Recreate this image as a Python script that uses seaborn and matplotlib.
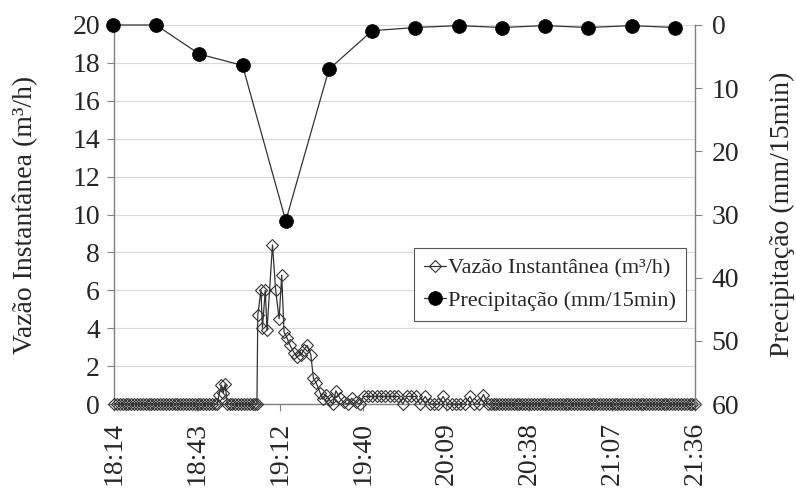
import matplotlib
matplotlib.use("Agg")
import matplotlib.pyplot as plt
import seaborn as sns
import pandas as pd
import numpy as np

sns.set_style("white")
plt.rcParams['font.family'] = ['Liberation Serif', 'DejaVu Serif']

# ---- data -------------------------------------------------------------
# flow: time in minutes after 18:00, instantaneous flow (m3/h)
flow_min = [
    14.4, 15.4, 16.4, 17.4, 18.4, 19.4, 20.4, 21.4, 22.4, 23.4, 24.4, 25.4,
    26.4, 27.4, 28.4, 29.4, 30.4, 31.4, 32.4, 33.4, 34.4, 35.4, 36.4, 37.4,
    38.4, 39.4, 40.4, 41.4, 42.4, 43.4, 44.4, 45.4, 46.4, 47.4, 48.4, 49.4,
    50.2, 50.9, 51.7, 52.3, 53.0, 53.7,
    54.5, 55.5, 56.5, 57.5, 58.5, 59.5, 60.5, 61.5, 62.5, 63.5, 64.0,
    64.3, 65.4, 65.9, 66.9, 67.5, 69.4, 70.5, 71.7, 72.6, 73.4, 74.4, 75.5,
    76.9, 77.9, 79.3, 80.3, 81.4, 82.7, 83.6, 84.6, 85.9, 86.9, 88.0, 89.3,
    90.3, 91.4, 92.8, 94.1, 95.5, 96.9, 98.3, 99.7,
    101.1, 102.6, 104.1, 105.6, 107.1, 108.6, 110.1, 111.6, 113.1, 114.6,
    116.1, 117.6, 119.1, 120.6, 122.4, 124.0, 125.5, 127.0, 128.6, 130.1,
    131.6, 133.1, 134.6, 136.1, 137.9, 139.4, 140.9, 142.6, 144.1,
    145.1, 146.1, 147.1, 148.1, 149.1, 150.1, 151.1, 152.1, 153.1, 154.1,
    155.1, 156.1, 157.1, 158.1, 159.1, 160.1, 161.1, 162.1, 163.1, 164.1,
    165.1, 166.1, 167.1, 168.1, 169.1, 170.1, 171.1, 172.1, 173.1, 174.1,
    175.1, 176.1, 177.1, 178.1, 179.1, 180.1, 181.1, 182.1, 183.1, 184.1,
    185.1, 186.1, 187.1, 188.1, 189.1, 190.1, 191.1, 192.1, 193.1, 194.1,
    195.1, 196.1, 197.1, 198.1, 199.1, 200.1, 201.1, 202.1, 203.1, 204.1,
    205.1, 206.1, 207.1, 208.1, 209.1, 210.1, 211.1, 212.1, 213.1, 214.1,
    215.1, 216.0,
]
flow_val = [
    0, 0, 0, 0, 0, 0, 0, 0, 0, 0, 0, 0,
    0, 0, 0, 0, 0, 0, 0, 0, 0, 0, 0, 0,
    0, 0, 0, 0, 0, 0, 0, 0, 0, 0, 0, 0,
    0, 0.5, 1.0, 0.6, 1.05, 0,
    0, 0, 0, 0, 0, 0, 0, 0, 0, 0, 0,
    4.7, 6.0, 4.0, 6.0, 3.9, 8.4, 6.0, 4.5, 6.8, 3.8, 3.5, 3.1,
    2.7, 2.5, 2.6, 2.85, 3.1, 2.6, 1.35, 1.1, 0.6, 0.25, 0.45, 0.2,
    0.0, 0.7, 0.3, 0.1, 0.0, 0.3, 0.1, 0.0,
    0.4, 0.4, 0.4, 0.4, 0.4, 0.4, 0.4, 0.4, 0.4, 0.0,
    0.4, 0.4, 0.4, 0.0, 0.4, 0.0, 0.0, 0.0, 0.4, 0.0,
    0.0, 0.0, 0.0, 0.0, 0.4, 0.0, 0.0, 0.5, 0.0,
    0, 0, 0, 0, 0, 0, 0, 0, 0, 0,
    0, 0, 0, 0, 0, 0, 0, 0, 0, 0,
    0, 0, 0, 0, 0, 0, 0, 0, 0, 0,
    0, 0, 0, 0, 0, 0, 0, 0, 0, 0,
    0, 0, 0, 0, 0, 0, 0, 0, 0, 0,
    0, 0, 0, 0, 0, 0, 0, 0, 0, 0,
    0, 0, 0, 0, 0, 0, 0, 0, 0, 0,
    0, 0,
]

# precipitation every 15 min (mm/15min)
precip_time = ["18:14", "18:29", "18:44", "18:59", "19:14", "19:29", "19:44",
               "19:59", "20:14", "20:29", "20:44", "20:59", "21:14", "21:29"]
precip_val = [0.0, 0.0, 4.6, 6.4, 31.0, 7.0, 0.9, 0.4, 0.1, 0.4, 0.1, 0.4, 0.1, 0.4]

x_tick_labels = ["18:14", "18:43", "19:12", "19:40", "20:09", "20:38", "21:07", "21:36"]
left_ticks = [0, 2, 4, 6, 8, 10, 12, 14, 16, 18, 20]
right_ticks = [0, 10, 20, 30, 40, 50, 60]
flow_label = "Vazão Instantânea (m³/h)"
precip_label = "Precipitação (mm/15min)"

# x axis in Excel day fractions: 0.76 .. 0.90, major unit 0.02
x_min_day, x_max_day, x_major_day = 0.76, 0.90, 0.02


def to_min(s):
    h, m = s.split(":")
    return int(h) * 60 + int(m)


flow_df = pd.DataFrame({"t": [18 * 60 + m for m in flow_min], "v": flow_val})
precip_df = pd.DataFrame({"t": [to_min(s) for s in precip_time], "v": precip_val})

# ---- figure -----------------------------------------------------------
fig = plt.figure(figsize=(7.96, 4.93), dpi=100)
ax = fig.add_axes([0.1432, 0.1805, 0.7299, 0.7688])
ax2 = ax.twinx()

line_col = "#333333"
sns.lineplot(data=flow_df, x="t", y="v", ax=ax, sort=False, estimator=None,
             color=line_col, linewidth=0.9, marker="D", markersize=5.8,
             markerfacecolor="none", markeredgecolor=line_col,
             markeredgewidth=0.8, legend=False, clip_on=False, zorder=3)
sns.lineplot(data=precip_df, x="t", y="v", ax=ax2, sort=False, estimator=None,
             color=line_col, linewidth=0.9, marker="o", markersize=10,
             markerfacecolor="black", markeredgecolor="black",
             markeredgewidth=0.5, legend=False, clip_on=False, zorder=3)

xticks = np.arange(x_min_day, x_max_day + 1e-9, x_major_day) * 1440
ax.set_xlim(x_min_day * 1440, x_max_day * 1440)
ax.set_xticks(xticks)
ax.set_xticklabels(x_tick_labels, rotation=90)

ax.set_ylim(0, 20)
ax.set_yticks(left_ticks)
ax2.set_ylim(60, 0)
ax2.set_yticks(right_ticks)

ax.set_xlabel("")
ax.set_ylabel(flow_label, fontsize=20)
ax2.set_ylabel(precip_label, fontsize=20)
ax.yaxis.set_label_coords(-0.131, 0.5)
ax2.yaxis.set_label_coords(1.128, 0.5)

spine_col = "#808080"
for a in (ax, ax2):
    a.spines["top"].set_visible(False)
    for s in a.spines.values():
        s.set_color(spine_col)
        s.set_linewidth(1.0)
ax.spines["right"].set_visible(False)
ax2.spines["left"].set_visible(False)
ax2.spines["bottom"].set_visible(False)

ax.yaxis.grid(True, color="#d9d9d9", linewidth=0.9)
ax.set_axisbelow(True)

ax.tick_params(axis="y", which="major", direction="out", length=5, width=0.8,
               color=spine_col, labelsize=20, left=True, pad=5)
ax.tick_params(axis="x", which="major", direction="out", length=5, width=0.8,
               color=spine_col, labelsize=20, bottom=True, pad=8)
ax2.tick_params(axis="y", which="major", direction="out", length=5, width=0.8,
                color=spine_col, labelsize=20, right=True, pad=7)

handles = [ax.lines[0], ax2.lines[0]]
leg = ax2.legend(handles, [flow_label, precip_label], loc="upper left",
                 bbox_to_anchor=(0.516, 0.412), borderaxespad=0, fontsize=16,
                 frameon=True, fancybox=False, framealpha=1, edgecolor="#555555",
                 handlelength=1.0, handletextpad=0.1, borderpad=0.45,
                 labelspacing=0.55)
leg.get_frame().set_linewidth(0.8)

fig.savefig("out.png", dpi=100)
